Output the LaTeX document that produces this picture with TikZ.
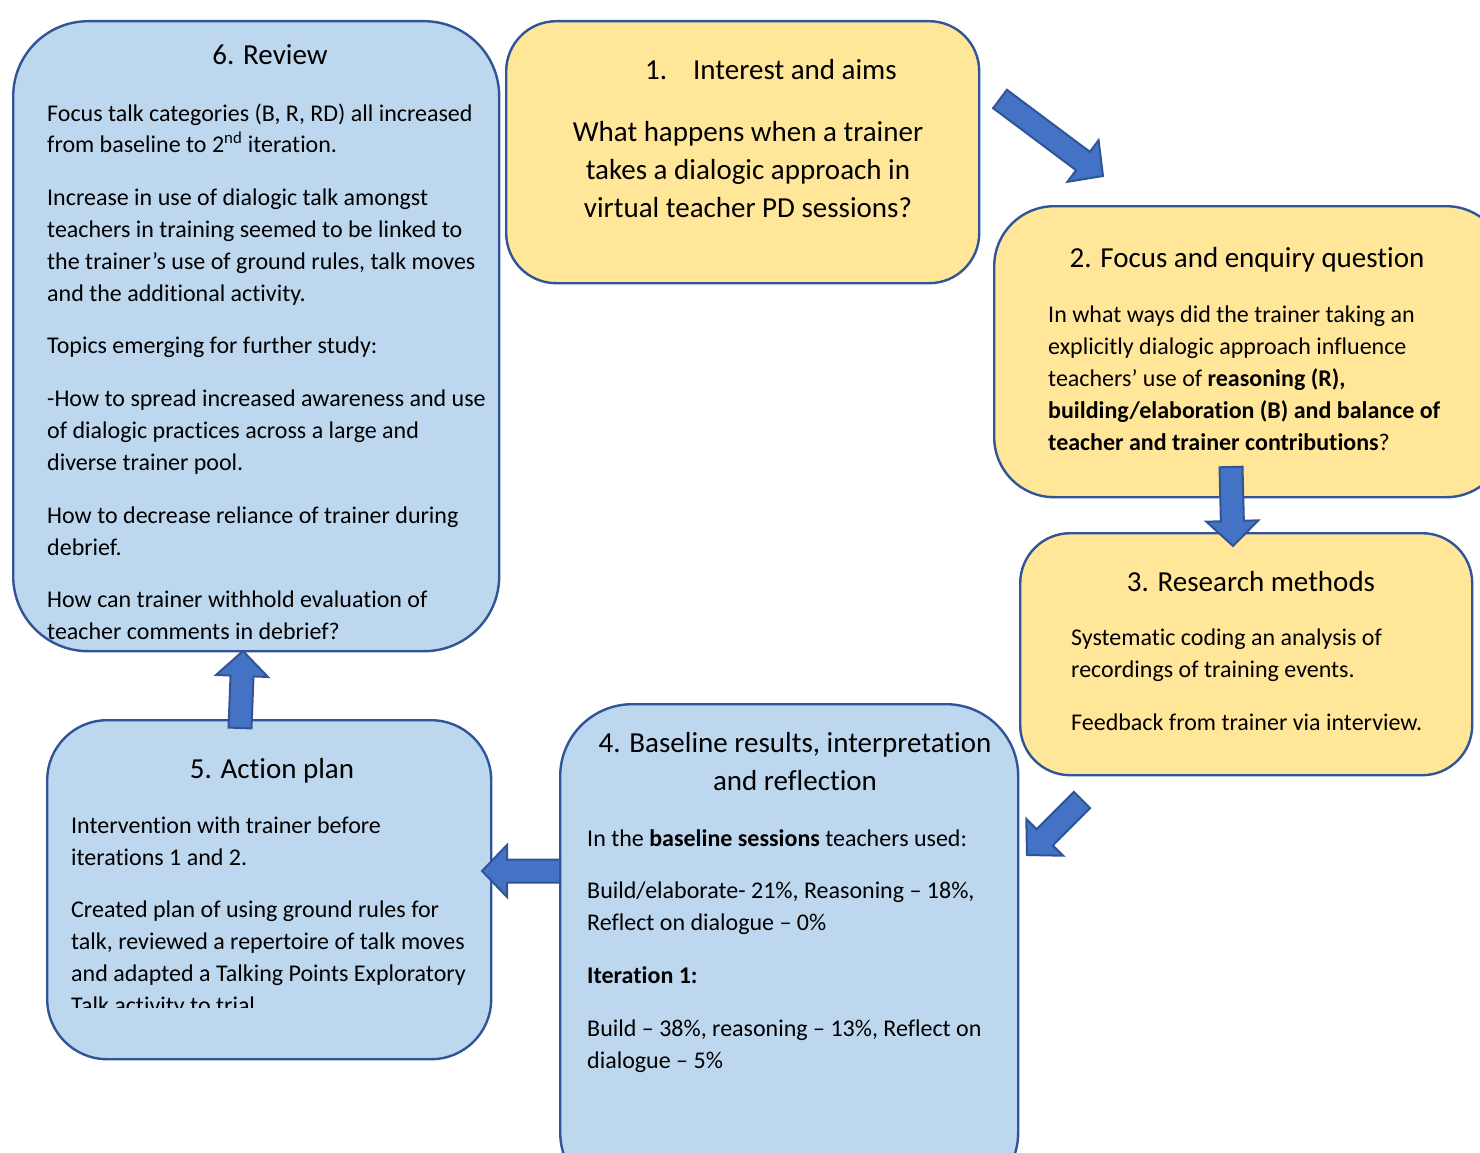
\documentclass[tikz,border=0pt]{standalone}
\usepackage{fontspec}
\setmainfont{Carlito}[Ligatures={NoCommon}]
\usetikzlibrary{calc}
\definecolor{boxline}{HTML}{2F5597}
\definecolor{boxblue}{HTML}{BDD7EE}
\definecolor{boxyellow}{HTML}{FFE699}
\definecolor{arrblue}{HTML}{4472C4}
\tikzset{
  panel/.style={draw=boxline, line width=2.4pt, anchor=north west, inner sep=0pt},
  bluepanel/.style={panel, fill=boxblue},
  yellowpanel/.style={panel, fill=boxyellow},
  head/.style={inner sep=0pt, anchor=base, align=center, font=\fontsize{29}{38}\selectfont},
  body/.style={inner sep=0pt, anchor=base west, align=left, font=\fontsize{24}{32}\selectfont},
  blockarr/.style={draw=boxline, fill=arrblue, line width=2pt, line join=miter}
}
\newcommand{\blockarrow}[2]{%
  \coordinate (#1n) at ($(#2)!25pt!(#1)$);
  \draw[blockarr] ($(#1)!11.5pt!90:(#2)$) -- ($(#1n)!11.5pt!90:(#2)$) -- ($(#1n)!26pt!90:(#2)$)
    -- (#2) -- ($(#1n)!26pt!-90:(#2)$) -- ($(#1n)!11.5pt!-90:(#2)$) -- ($(#1)!11.5pt!-90:(#2)$) -- cycle;}
\begin{document}
\begin{tikzpicture}[x=1pt,y=-1pt]
		\useasboundingbox (0,0) rectangle (1480,1153);
		\clip (0,0) rectangle (1480,1153);
		\node[bluepanel, minimum width=486pt, minimum height=630pt, rounded corners=75pt] (review) at (12,20) {};
		\node[yellowpanel, minimum width=473pt, minimum height=262pt, rounded corners=50pt] (aims) at (505,20) {};
		\node[yellowpanel, minimum width=512pt, minimum height=291pt, rounded corners=60pt] (focus) at (993,205) {};
		\node[yellowpanel, minimum width=452pt, minimum height=242pt, rounded corners=50pt] (methods) at (1019,532) {};
		\node[bluepanel, minimum width=458pt, minimum height=500pt, rounded corners=72pt] (results) at (559,703) {};
		\node[bluepanel, minimum width=444pt, minimum height=339pt, rounded corners=60pt] (action) at (46,719) {};
		\coordinate (aimsout) at (1000,99);
		\coordinate (focusin) at (1103,176);
		\coordinate (focusout) at (1231,467);
		\coordinate (methodsin) at (1233,546);
		\coordinate (methodsout) at (1082,800);
		\coordinate (resultsin) at (1027,855);
		\coordinate (resultsout) at (560,871);
		\coordinate (actionin) at (482,871);
		\coordinate (actionout) at (240,728);
		\coordinate (reviewin) at (243,651);
		\blockarrow{aimsout}{focusin}
		\blockarrow{focusout}{methodsin}
		\blockarrow{methodsout}{resultsin}
		\blockarrow{resultsout}{actionin}
		\blockarrow{actionout}{reviewin}
		\node[head] (reviewhead) at (270,65) {6. Review};
		\node[body] (review1) at (47,153) {Focus talk categories (B, R, RD) all increased\\from baseline to 2\textsuperscript{nd} iteration.};
		\node[body] (review2) at (47,301) {Increase in use of dialogic talk amongst\\teachers in training seemed to be linked to\\the trainer’s use of ground rules, talk moves\\and the additional activity.};
		\node[body] (review3) at (47,353) {Topics emerging for further study:};
		\node[body] (review4) at (47,470) {-How to spread increased awareness and use\\of dialogic practices across a large and\\diverse trainer pool.};
		\node[body] (review5) at (47,555) {How to decrease reliance of trainer during\\debrief.};
		\node[body] (review6) at (47,639) {How can trainer withhold evaluation of\\teacher comments in debrief?};
		\node[head, anchor=base west] (aimshead) at (645,80) {\makebox[48pt][l]{1.}Interest and aims};
		\node[head] (aimstext) at (748,217) {What happens when a trainer\\takes a dialogic approach in\\virtual teacher PD sessions?};
		\node[head] (focushead) at (1247,267) {2. Focus and enquiry question};
		\node[body] (focustext) at (1048,450) {In what ways did the trainer taking an\\explicitly dialogic approach influence\\teachers’ use of \textbf{reasoning (R),}\\\textbf{building/elaboration (B) and balance of}\\\textbf{teacher and trainer contributions}?};
		\node[head] (methodshead) at (1251,591) {3. Research methods};
		\node[body] (methods1) at (1071,677) {Systematic coding an analysis of\\recordings of training events.};
		\node[body] (methods2) at (1071,730) {Feedback from trainer via interview.};
		\node[head] (resultshead) at (795,790) {4. Baseline results, interpretation\\and reflection};
		\node[body] (results1) at (587,846) {In the \textbf{baseline sessions} teachers used:};
		\node[body] (results2) at (587,930) {Build/elaborate- 21\%, Reasoning – 18\%,\\Reflect on dialogue – 0\%};
		\node[body] (results3) at (587,983) {\textbf{Iteration 1:}};
		\node[body] (results4) at (587,1068) {Build – 38\%, reasoning – 13\%, Reflect on\\dialogue – 5\%};
		\node[head] (actionhead) at (272,778) {5. Action plan};
		\node[body] (action1) at (71,865) {Intervention with trainer before\\iterations 1 and 2.};
		\begin{scope}
		\clip (46,719) rectangle (490,1007);
		\node[body] (action2) at (71,1013) {Created plan of using ground rules for\\talk, reviewed a repertoire of talk moves\\and adapted a Talking Points Exploratory\\Talk activity to trial};
		\end{scope}
\end{tikzpicture}
\end{document}
